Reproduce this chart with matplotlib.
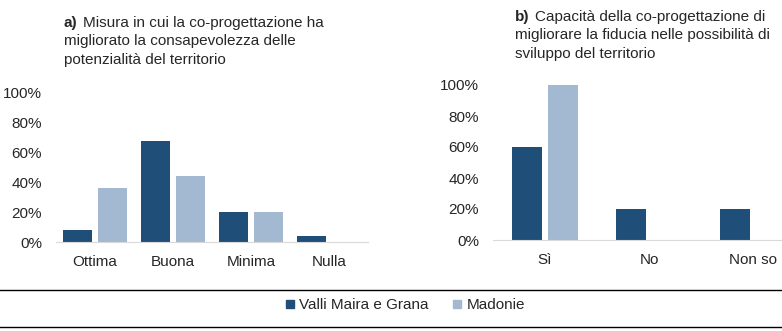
import matplotlib
matplotlib.use("Agg")
import matplotlib.pyplot as plt
from matplotlib.lines import Line2D
from matplotlib.ticker import PercentFormatter

plt.rcParams["font.family"] = ["Liberation Sans", "DejaVu Sans"]

# data (percent)
categories_a = ["Ottima", "Buona", "Minima", "Nulla"]
valli_a = [8, 68, 20, 4]
madonie_a = [36, 44, 20, 0]

categories_b = ["Sì", "No", "Non so"]
valli_b = [60, 20, 20]
madonie_b = [100, 0, 0]

series_names = ["Valli Maira e Grana", "Madonie"]
DARK = "#1F4E79"
LIGHT = "#A2B9D1"
TEXT = "#262626"

W, H = 782, 331


def px(x, y):
    # pixel coords (from top-left) to figure fraction
    return x / W, 1 - y / H


def style_axes(ax, categories):
    ax.set_ylim(0, 100)
    ax.set_yticks([0, 20, 40, 60, 80, 100])
    ax.yaxis.set_major_formatter(PercentFormatter(decimals=0))
    ax.set_xticks(range(len(categories)))
    ax.set_xticklabels(categories)
    ax.set_xlim(-0.5, len(categories) - 0.5)
    for side in ["top", "right", "left"]:
        ax.spines[side].set_visible(False)
    ax.spines["bottom"].set_color("#D9D9D9")
    ax.tick_params(axis="both", length=0, labelsize=11, colors=TEXT)
    ax.tick_params(axis="y", pad=10)
    ax.tick_params(axis="x", pad=9)


def draw_bars(ax, values1, values2, width, offset):
    xs = range(len(values1))
    ax.bar([x - offset for x in xs], values1, width=width, color=DARK)
    ax.bar([x + offset for x in xs], values2, width=width, color=LIGHT)


def draw_title(x_label, x_text, label, lines, baselines):
    fig.text(*px(x_label, baselines[0]), label, fontsize=11, fontweight="bold",
             color=TEXT, va="baseline")
    fig.text(*px(x_text, baselines[0]), lines[0], fontsize=11, color=TEXT, va="baseline")
    for line, b in zip(lines[1:], baselines[1:]):
        fig.text(*px(x_label, b), line, fontsize=11, color=TEXT, va="baseline")


fig = plt.figure(figsize=(W / 100, H / 100), dpi=100)

# panel a
ax_a = fig.add_axes([56 / W, 89 / H, 312 / W, 149 / H])
draw_bars(ax_a, valli_a, madonie_a, 0.376, 0.227)
style_axes(ax_a, categories_a)

# panel b (cut by the right edge of the picture)
ax_b = fig.add_axes([493 / W, 91 / H, 312 / W, 155 / H])
draw_bars(ax_b, valli_b, madonie_b, 0.283, 0.173)
style_axes(ax_b, categories_b)

draw_title(64, 83, "a)",
           ["Misura in cui la co-progettazione ha",
            "migliorato la consapevolezza delle",
            "potenzialità del territorio"],
           [27, 45.5, 64])
draw_title(515, 535, "b)",
           ["Capacità della co-progettazione di",
            "migliorare la fiducia nelle possibilità di",
            "sviluppo del territorio"],
           [21, 39.5, 58])

# legend between two rules
for yy in [290, 327]:
    fig.add_artist(Line2D([0, 1], [1 - yy / H, 1 - yy / H], color="black", lw=1,
                          transform=fig.transFigure))

handles = [Line2D([], [], marker="s", linestyle="none", markersize=6, color=c)
           for c in [DARK, LIGHT]]
fig.legend(handles, series_names, loc="center", bbox_to_anchor=px(405, 305),
           ncol=2, frameon=False, fontsize=11, handlelength=0.6,
           handletextpad=0.3, columnspacing=1.6, labelcolor=TEXT)

fig.savefig("out.png", dpi=100)
